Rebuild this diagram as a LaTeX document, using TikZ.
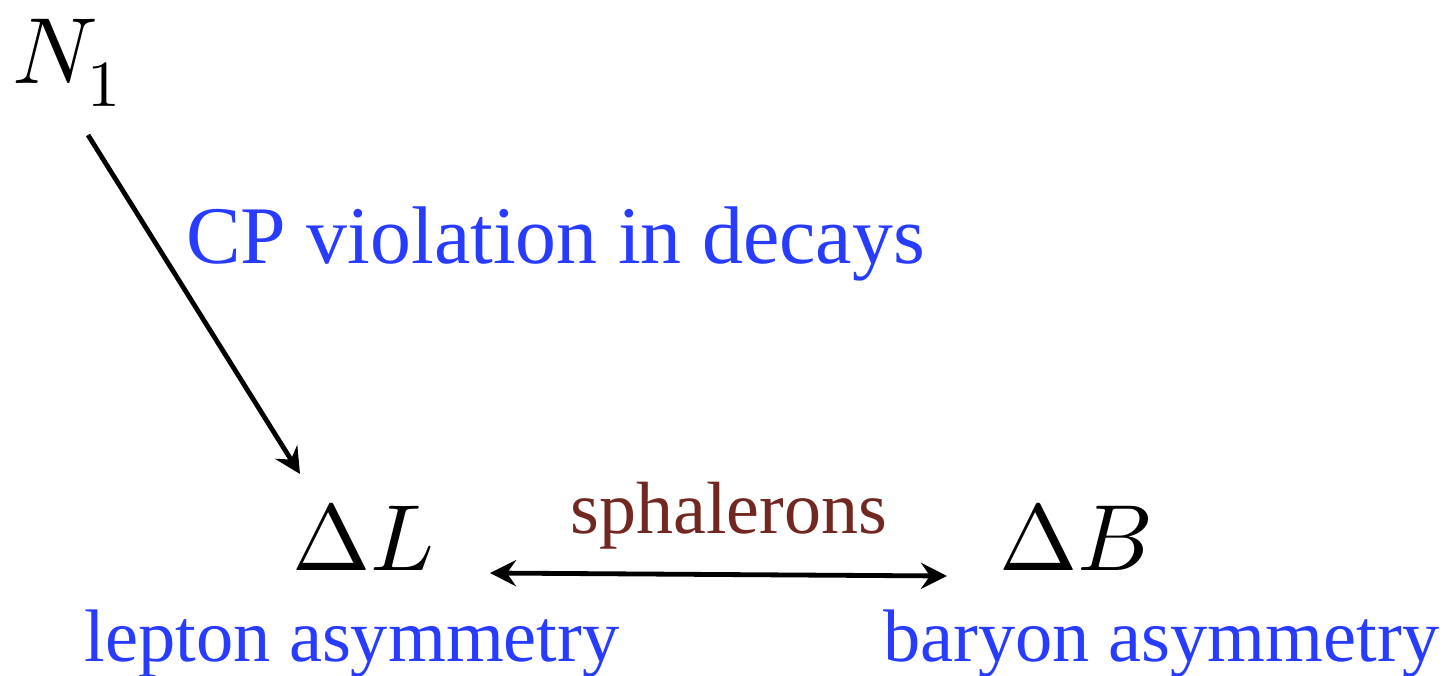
\documentclass[tikz,border=0pt]{standalone}
\usepackage{fontspec}
\setmainfont{Liberation Serif}
\usepackage{unicode-math}
\setmathfont{Latin Modern Math}
\usetikzlibrary{arrows.meta}
\definecolor{lblue}{RGB}{40,60,255}
\definecolor{sbrown}{RGB}{114,40,34}
\tikzset{
  mathlbl/.style={inner sep=0pt,anchor=base west,font=\fontsize{47pt}{50pt}\selectfont},
  bluebig/.style={inner sep=0pt,anchor=base west,text=lblue,font=\fontsize{40.9pt}{44pt}\selectfont},
  bluelbl/.style={inner sep=0pt,anchor=base west,text=lblue,font=\fontsize{37.2pt}{40pt}\selectfont},
  brownlbl/.style={inner sep=0pt,anchor=base west,text=sbrown,font=\fontsize{37pt}{40pt}\selectfont},
  tip/.tip={Stealth[length=13pt,width=13pt,inset=4.5pt]},
  conn/.style={line width=2.4pt,-tip},
  dconn/.style={line width=2.4pt,tip-tip}
}
\begin{document}
\begin{tikzpicture}[x=0.5pt,y=-0.5pt]
\useasboundingbox (0,0) rectangle (1446,675);
\node[mathlbl] (n1) at (12,83) {$N_1$};
\node[mathlbl] (dl) at (292,570) {$\Delta L$};
\node[mathlbl] (db) at (999,570) {$\Delta B$};
\node[bluebig] (cp) at (186,263) {CP violation in decays};
\node[brownlbl] (sph) at (570,533) {sphalerons};
\node[bluelbl] (lep) at (84,661) {lepton asymmetry};
\node[bluelbl] (bar) at (883,661) {baryon asymmetry};
\coordinate (a1) at (88,135);
\coordinate (a2) at (300,474);
\coordinate (b1) at (490,573);
\coordinate (b2) at (947,576);
\draw[conn] (a1) -- (a2);
\draw[dconn] (b1) -- (b2);
\end{tikzpicture}
\end{document}
